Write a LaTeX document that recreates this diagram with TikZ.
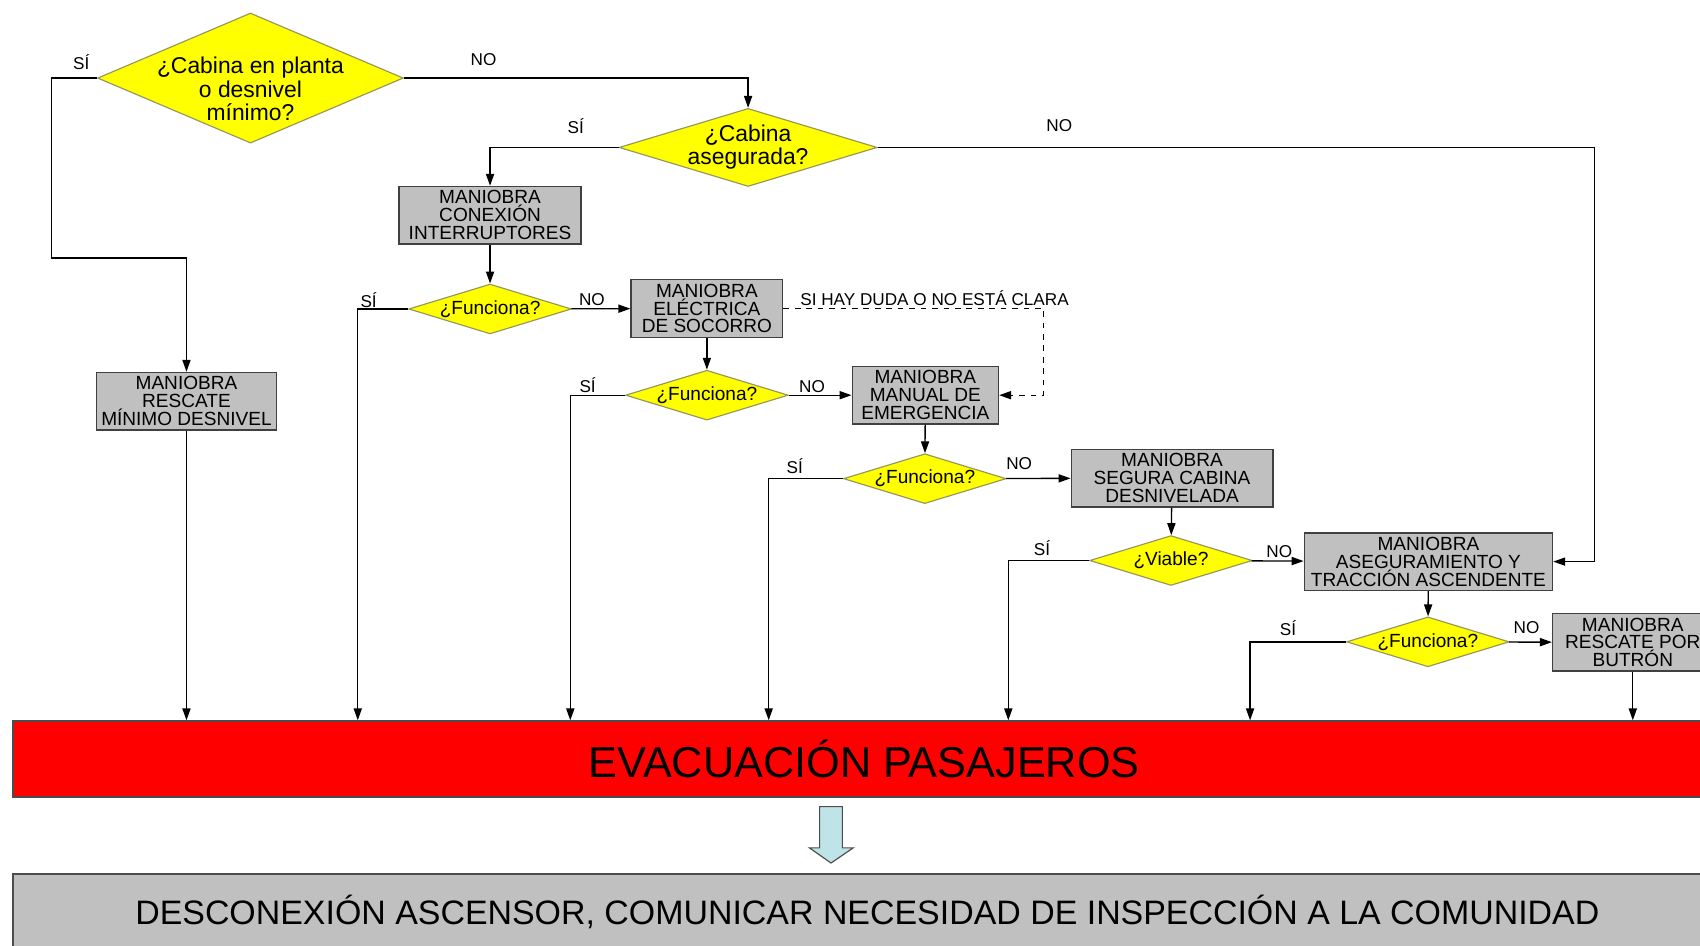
\documentclass[tikz,border=0pt]{standalone}
\usepackage{fontspec}
\setmainfont{Liberation Sans}
\usetikzlibrary{shapes.geometric,arrows.meta}
\definecolor{jaune}{RGB}{255,255,0}
\definecolor{bordjaune}{RGB}{150,150,90}
\definecolor{gris}{RGB}{192,192,192}
\definecolor{rouge}{RGB}{255,0,0}
\definecolor{bleuclair}{RGB}{190,228,232}
\begin{document}
\begin{tikzpicture}
\tikzset{losange/.style={draw=bordjaune, fill=jaune, diamond, inner sep=0pt, line width=0.6pt},
  question/.style={font=\fontsize{10}{11}\selectfont, align=center, inner sep=0pt},
  grande/.style={font=\fontsize{12}{12.2}\selectfont},
  petit/.style={losange, minimum width=3cm, minimum height=0.92cm, label={[question]center:#1}},
  boite/.style={draw=black!75, fill=gris, line width=0.7pt, inner sep=0pt, align=center, minimum height=1.06cm, font=\fontsize{10}{9.4}\selectfont},
  etiq/.style={font=\fontsize{9}{10}\selectfont, inner sep=0pt},
  fleche/.style={-{Triangle[length=2.2mm,width=1.5mm]}, line width=0.7pt}}
\useasboundingbox (0,0) rectangle (31.36,-17.44);
% questions
\node[losange, minimum width=5.64cm, minimum height=2.4cm, label={[question, grande, yshift=-0.2cm]center:¿Cabina en planta\\o desnivel\\mínimo?}] (Q1) at (4.62,-1.44) {};
\node[losange, minimum width=4.76cm, minimum height=1.44cm, label={[question, grande]center:¿Cabina\\asegurada?}] (Q2) at (13.8,-2.72) {};
\node[petit={¿Funciona?}] (Q3) at (9.04,-5.70) {};
\node[petit={¿Funciona?}] (Q4) at (13.04,-7.29) {};
\node[petit={¿Funciona?}] (Q5) at (17.06,-8.83) {};
\node[petit={¿Viable?}] (Q6) at (21.6,-10.34) {};
\node[petit={¿Funciona?}] (Q7) at (26.34,-11.84) {};
% maniobras
\node[boite, minimum width=3.32cm] (M0) at (3.44,-7.4) {MANIOBRA\\RESCATE\\MÍNIMO DESNIVEL};
\node[boite, minimum width=3.36cm] (M1) at (9.04,-3.97) {MANIOBRA\\CONEXIÓN\\INTERRUPTORES};
\node[boite, minimum width=2.8cm] (M2) at (13.04,-5.69) {MANIOBRA\\ELÉCTRICA\\DE SOCORRO};
\node[boite, minimum width=2.7cm] (M3) at (17.07,-7.29) {MANIOBRA\\MANUAL DE\\EMERGENCIA};
\node[boite, minimum width=3.72cm] (M4) at (21.62,-8.82) {MANIOBRA\\SEGURA CABINA\\DESNIVELADA};
\node[boite, minimum width=4.58cm] (M5) at (26.35,-10.36) {MANIOBRA\\ASEGURAMIENTO Y\\TRACCIÓN ASCENDENTE};
\node[boite, minimum width=2.96cm] (M6) at (30.12,-11.85) {MANIOBRA\\RESCATE POR\\BUTRÓN};
% bandas de abajo
\node[draw=black!70, fill=rouge, line width=0.7pt, minimum width=31.4cm, minimum height=1.4cm, font=\fontsize{22.7}{24}\selectfont] (Evac) at (15.94,-14.0) {EVACUACIÓN PASAJEROS};
\node[draw=black!70, fill=gris, line width=0.7pt, minimum width=31.52cm, minimum height=1.4cm, font=\fontsize{17.8}{20}\selectfont] (Desc) at (16.0,-16.82) {DESCONEXIÓN ASCENSOR, COMUNICAR NECESIDAD DE INSPECCIÓN A LA COMUNIDAD};
\draw[draw=black!70, fill=bleuclair, line width=0.6pt] (15.12,-14.88) -- (15.54,-14.88) -- (15.54,-15.64) -- (15.74,-15.64) -- (15.33,-15.92) -- (14.93,-15.64) -- (15.12,-15.64) -- cycle;
% conexiones
\draw[fleche] (Q1.west) -- ++(-0.84,0) -- ++(0,-3.32) -| (M0.north);
\draw[fleche] (Q1.east) -| (Q2.north);
\draw[fleche] (Q2.west) -| (M1.north);
\draw[fleche] (Q2.east) -- ++(13.22,0) |- (M5.east);
\draw[fleche] (M1) -- (Q3);
\draw[fleche] (Q3) -- (M2);
\draw[fleche] (M2) -- (Q4);
\draw[fleche] (Q4) -- (M3);
\draw[fleche] (M3) -- (Q5);
\draw[fleche] (Q5) -- (M4);
\draw[fleche] (M4) -- (Q6);
\draw[fleche] (Q6) -- (M5);
\draw[fleche] (M5) -- (Q7);
\draw[fleche] (Q7) -- (M6);
\draw[fleche, dashed] (M2.east) -- ++(4.8,0) |- (M3.east);
\draw[fleche] (M0) -- (M0 |- Evac.north);
\draw[fleche] (Q3.west) -| (6.6,0 |- Evac.north);
\draw[fleche] (Q4.west) -| (10.52,0 |- Evac.north);
\draw[fleche] (Q5.west) -| (14.18,0 |- Evac.north);
\draw[fleche] (Q6.west) -| (18.6,0 |- Evac.north);
\draw[fleche] (Q7.west) -| (23.06,0 |- Evac.north);
\draw[fleche] (M6) -- (M6 |- Evac.north);
% etiquetas
\node[etiq] (s1) at (1.5,-1.14) {SÍ};
\node[etiq] (n1) at (8.92,-1.1) {NO};
\node[etiq] (s2) at (10.62,-2.32) {SÍ};
\node[etiq] (n2) at (19.54,-2.32) {NO};
\node[etiq] (s3) at (6.8,-5.54) {SÍ};
\node[etiq] (n3) at (10.92,-5.52) {NO};
\node[etiq] (s4) at (10.84,-7.1) {SÍ};
\node[etiq] (n4) at (14.98,-7.14) {NO};
\node[etiq] (s5) at (14.66,-8.6) {SÍ};
\node[etiq] (n5) at (18.8,-8.56) {NO};
\node[etiq] (s6) at (19.22,-10.12) {SÍ};
\node[etiq] (n6) at (23.6,-10.18) {NO};
\node[etiq] (s7) at (23.76,-11.58) {SÍ};
\node[etiq] (n7) at (28.16,-11.58) {NO};
\node[etiq] (duda) at (17.24,-5.5) {SI HAY DUDA O NO ESTÁ CLARA};
\end{tikzpicture}
\end{document}
